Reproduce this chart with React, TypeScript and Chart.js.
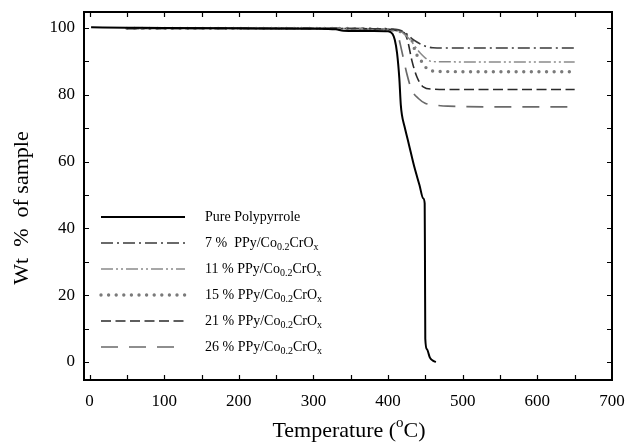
import React, { useEffect, useRef } from "react";
import { Chart, registerables } from "chart.js";

Chart.register(...registerables);

// ---- data ----
const xTickValues = [0, 100, 200, 300, 400, 500, 600, 700];
const yTickValues = [0, 20, 40, 60, 80, 100];

const ppyTemp = [2, 50, 100, 200, 300, 330, 340, 380, 400, 406, 409, 412, 415, 417, 418.5, 422, 428, 435, 442, 447, 449, 449.4, 449.8, 452, 456, 460, 464];
const ppyWt = [100.2, 100.1, 100, 99.9, 99.8, 99.6, 99.2, 99.1, 99.0, 98.2, 96.4, 92.5, 85, 77, 74, 70.5, 65, 58.5, 53, 49, 47.5, 30, 7, 3.8, 1.3, 0.4, 0];

const s7Temp = [50, 100, 200, 300, 380, 410, 418, 424, 431, 438, 445, 452, 460, 480, 550, 650];
const s7Wt = [99.9, 99.9, 99.9, 99.9, 99.8, 99.6, 99.2, 98.4, 97, 95.9, 95, 94.4, 94.1, 94, 94, 94];

const s11Temp = [50, 100, 200, 300, 380, 410, 420, 425, 430, 436, 443, 450, 458, 470, 550, 650];
const s11Wt = [99.9, 99.9, 99.9, 99.9, 99.8, 99.5, 98.5, 97.5, 96.4, 94.5, 92.5, 91, 90, 89.9, 89.8, 89.8];

const s15Temp = [50, 100, 200, 300, 380, 410, 420, 428, 433.5, 436, 440, 443, 449.6, 456, 465, 550, 650];
const s15Wt = [99.9, 99.9, 99.9, 99.9, 99.7, 99.3, 98.5, 97, 95.5, 93, 91.5, 90.6, 88.4, 87.4, 87, 86.9, 86.9];

const s21Temp = [50, 100, 200, 300, 380, 410, 418, 423, 427, 431.7, 438.5, 447, 460, 480, 550, 650];
const s21Wt = [99.9, 99.9, 99.9, 99.9, 99.7, 99.3, 98.9, 98.2, 95.4, 90.4, 85.4, 82.4, 81.7, 81.6, 81.6, 81.6];

const s26Temp = [50, 100, 200, 300, 380, 405, 411.6, 416, 420.5, 425, 431.7, 440.6, 449.6, 460.7, 480, 550, 650];
const s26Wt = [99.9, 99.9, 99.9, 99.9, 99.7, 99.6, 99.2, 95.4, 90.9, 86.4, 81.4, 78.9, 77.5, 77, 76.6, 76.4, 76.4];

const seriesPrefixes = ["Pure Polypyrrole", "7 %  ", "11 % ", "15 % ", "21 % ", "26 % "];

const FONT = "'Liberation Serif', 'Times New Roman', serif";

type Part = { t: string; sub?: boolean; sup?: boolean };

function drawRich(ctx: CanvasRenderingContext2D, parts: Part[], x: number, y: number, size: number, align: "left" | "center") {
  const small = Math.round(size * 0.68);
  const widths = parts.map((p) => {
    ctx.font = `${p.sub || p.sup ? small : size}px ${FONT}`;
    return ctx.measureText(p.t).width;
  });
  const total = widths.reduce((a, b) => a + b, 0);
  let cx = align === "center" ? x - total / 2 : x;
  ctx.textAlign = "left";
  ctx.textBaseline = "middle";
  parts.forEach((p, i) => {
    ctx.font = `${p.sub || p.sup ? small : size}px ${FONT}`;
    const dy = p.sub ? size * 0.3 : p.sup ? -size * 0.35 : 0;
    ctx.fillText(p.t, cx, y + dy);
    cx += widths[i];
  });
}

const styles = [
  { color: "#000000", width: 2, dash: [] as number[], cap: "butt" },
  { color: "#3a3a3a", width: 1.6, dash: [12, 4, 2, 4], cap: "butt" },
  { color: "#8a8a8a", width: 1.5, dash: [12, 3, 2, 3, 2, 3], cap: "butt" },
  { color: "#7a7a7a", width: 3.4, dash: [0, 7.6], cap: "round" },
  { color: "#2a2a2a", width: 1.6, dash: [10, 4.5], cap: "butt" },
  { color: "#6a6a6a", width: 1.7, dash: [17, 11], cap: "butt" },
];

const decorPlugin = {
  id: "decor",
  afterDraw(chart: any) {
    const ctx: CanvasRenderingContext2D = chart.ctx;
    const { left, right, top, bottom } = chart.chartArea;
    const xs = chart.scales.x;
    const ys = chart.scales.y;
    ctx.save();
    ctx.strokeStyle = "#000";
    ctx.fillStyle = "#000";
    ctx.setLineDash([]);
    ctx.lineWidth = 1.2;
    const tl = 5;
    for (let v = 0; v < 700; v += 50) {
      const px = Math.round(xs.getPixelForValue(v)) + 0.5;
      ctx.beginPath();
      ctx.moveTo(px, bottom);
      ctx.lineTo(px, bottom - tl);
      ctx.moveTo(px, top);
      ctx.lineTo(px, top + tl);
      ctx.stroke();
    }
    for (let v = 0; v <= 100; v += 10) {
      const py = Math.round(ys.getPixelForValue(v)) + 0.5;
      ctx.beginPath();
      ctx.moveTo(left, py);
      ctx.lineTo(left + tl, py);
      ctx.moveTo(right, py);
      ctx.lineTo(right - tl, py);
      ctx.stroke();
    }
    ctx.lineWidth = 2;
    ctx.strokeRect(left, top, right - left, bottom - top);

    // legend
    const lx0 = left + 17;
    const lx1 = left + 101;
    const tx = left + 121;
    const y0 = top + 205;
    const dy = 26;
    seriesPrefixes.forEach((pre, i) => {
      const st = styles[i];
      const y = y0 + i * dy;
      ctx.save();
      ctx.strokeStyle = st.color;
      ctx.lineWidth = st.width;
      ctx.lineCap = st.cap as CanvasLineCap;
      ctx.setLineDash(st.dash);
      ctx.beginPath();
      ctx.moveTo(lx0, y);
      ctx.lineTo(lx1, y);
      ctx.stroke();
      ctx.restore();
      ctx.fillStyle = "#000";
      const parts: Part[] = i === 0 ? [{ t: pre }] : [{ t: pre + "PPy/Co" }, { t: "0.2", sub: true }, { t: "CrO" }, { t: "x", sub: true }];
      drawRich(ctx, parts, tx, y, 14, "left");
    });

    // axis titles
    ctx.fillStyle = "#000";
    drawRich(ctx, [{ t: "Temperature (" }, { t: "o", sup: true }, { t: "C)" }], 349, 431, 22, "center");
    ctx.save();
    ctx.translate(22, 208);
    ctx.rotate(-Math.PI / 2);
    drawRich(ctx, [{ t: "Wt  %  of sample" }], 0, 0, 22, "center");
    ctx.restore();
    ctx.restore();
  },
};

function mk(temp: number[], wt: number[]) {
  return temp.map((t, i) => ({ x: t, y: wt[i] }));
}

function noPad(s: any) {
  s.paddingTop = 0;
  s.paddingBottom = 0;
  s.paddingLeft = 0;
  s.paddingRight = 0;
}

export default function App() {
  const ref = useRef<HTMLCanvasElement | null>(null);
  useEffect(() => {
    if (!ref.current) return;
    const sets = [
      mk(ppyTemp, ppyWt),
      mk(s7Temp, s7Wt),
      mk(s11Temp, s11Wt),
      mk(s15Temp, s15Wt),
      mk(s21Temp, s21Wt),
      mk(s26Temp, s26Wt),
    ];
    const datasets = sets.map((d, i) => ({
      label: seriesPrefixes[i],
      data: d,
      borderColor: styles[i].color,
      borderWidth: styles[i].width,
      borderDash: styles[i].dash,
      borderCapStyle: styles[i].cap,
      pointRadius: 0,
      fill: false,
      cubicInterpolationMode: "monotone",
      order: i === 0 ? 0 : 1,
    }));
    const tickFont = { family: FONT, size: 17 };
    const chart = new Chart(ref.current, {
      type: "line",
      data: { datasets: datasets as any },
      options: {
        responsive: false,
        maintainAspectRatio: false,
        animation: false,
        layout: { padding: { top: 12, right: 17, left: 0, bottom: 0 } },
        plugins: { legend: { display: false }, tooltip: { enabled: false } },
        scales: {
          x: {
            type: "linear",
            min: -7.5,
            max: 700,
            grid: { display: false, drawTicks: false },
            border: { display: false },
            afterBuildTicks: (s: any) => {
              s.ticks = xTickValues.map((v) => ({ value: v }));
            },
            afterFit: (s: any) => {
              s.height = 67;
              noPad(s);
            },
            ticks: { padding: 11, color: "#000", font: tickFont, maxRotation: 0, autoSkip: false },
          },
          y: {
            type: "linear",
            min: -5.4,
            max: 104.8,
            grid: { display: false, drawTicks: false },
            border: { display: false },
            afterBuildTicks: (s: any) => {
              s.ticks = yTickValues.map((v) => ({ value: v }));
            },
            afterFit: (s: any) => {
              s.width = 84;
              noPad(s);
            },
            ticks: { padding: 9, color: "#000", font: tickFont, autoSkip: false },
          },
        },
      } as any,
      plugins: [decorPlugin],
    });
    return () => chart.destroy();
  }, []);
  return (
    <div style={{ position: "fixed", left: 0, top: 0, width: 629, height: 447, background: "#fff" }}>
      <canvas ref={ref} width={629} height={447} style={{ display: "block", width: 629, height: 447 }} />
    </div>
  );
}
